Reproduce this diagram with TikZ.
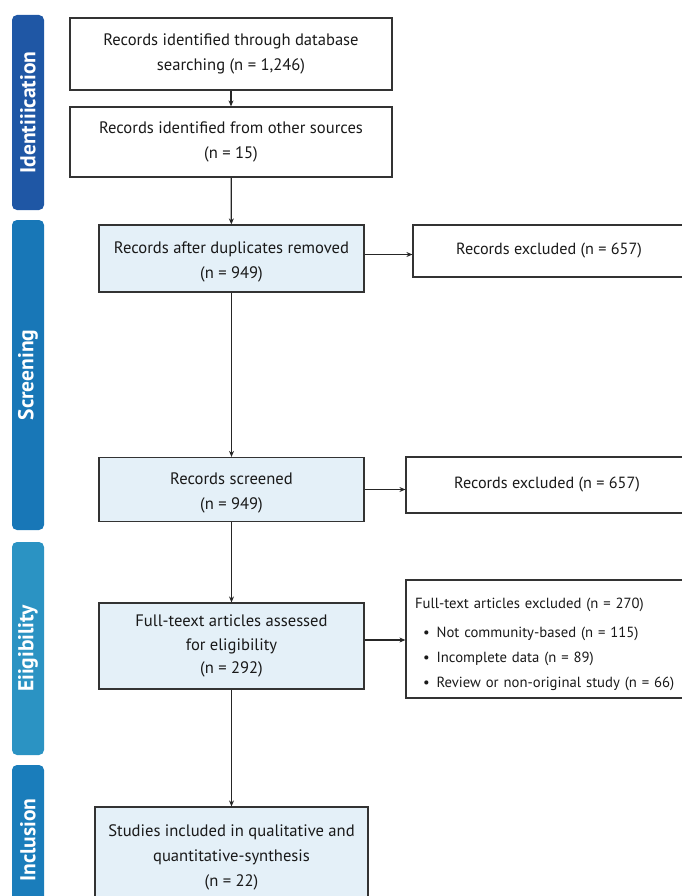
\documentclass[tikz,border=0pt]{standalone}
\usepackage{fontspec}
\setmainfont{PT Sans}
\usetikzlibrary{arrows.meta,positioning}
\definecolor{idblue}{HTML}{1F57A5}
\definecolor{scblue}{HTML}{1877B7}
\definecolor{elblue}{HTML}{2B93C3}
\definecolor{inblue}{HTML}{1A7DBB}
\definecolor{boxblue}{HTML}{E4F0F8}
\tikzset{
  stage/.style={rounded corners=5pt, rotate=90, text=white, minimum height=32pt,
    inner sep=0pt, font=\fontsize{21.5}{24}\selectfont\bfseries},
  record/.style={draw=black!80, line width=1.2pt, align=center, inner sep=0pt,
    font=\fontsize{16.6}{25}\selectfont, text=black!90},
  recordblue/.style={record, fill=boxblue},
  flow/.style={-{Stealth[length=6pt,width=5pt]}, line width=1.2pt, draw=black!85},
}
\begin{document}
\begin{tikzpicture}[x=1pt,y=-1pt]
  \useasboundingbox (0,0) rectangle (681,896);
  % stage bars on the left
  \node[stage, fill=idblue, minimum width=195pt] (ident) at (28,112.5) {Identiiication};
  \node[stage, fill=scblue, minimum width=310pt] (screen) at (28,375) {Screening};
  \node[stage, fill=elblue, minimum width=213pt] (elig) at (28,648.5) {Eiigibility};
  \node[stage, fill=inblue, minimum width=150pt] (incl) at (28,840) {Inclusion};
  % main column
  \node[record, minimum width=322pt, minimum height=72pt] (dbsearch) at (231,54)
    {Records identified through database\\searching (n = 1,246)};
  \node[record, minimum width=322pt, minimum height=70pt] (other) at (231,142)
    {Records identified from other sources\\(n = 15)};
  \node[recordblue, minimum width=265pt, minimum height=67pt] (dedup) at (231.5,258.5)
    {\rule{0pt}{18pt}Records after duplicates removed\\(n = 949)};
  \node[recordblue, minimum width=265pt, minimum height=64pt] (screened) at (231.5,489.5)
    {\rule{0pt}{18pt}Records screened\\(n = 949)};
  \node[recordblue, minimum width=265pt, minimum height=86pt,
    font=\fontsize{16.6}{23.5}\selectfont] (fulltext) at (231.5,646)
    {Full-teext articles assessed\\for eligibility\\(n = 292)};
  \node[recordblue, minimum width=273pt, minimum height=100pt] (included) at (231.5,857)
    {Studies included in qualitative and\\quantitative-synthesis\\(n = 22)};
  % exclusion boxes on the right
  \node[record, minimum width=272pt, minimum height=52pt,
    font=\fontsize{16.2}{25}\selectfont] (excl1) at (549,251)
    {Records excluded (n = 657)};
  \node[record, minimum width=282pt, minimum height=56pt,
    font=\fontsize{16.2}{25}\selectfont] (excl2) at (547,485)
    {Records excluded (n = 657)};
  \node[record, minimum width=292pt, minimum height=118pt, align=left,
    text width=274pt, inner xsep=9pt, font=\fontsize{14.7}{25}\selectfont] (excl3) at (552,639)
    {\rule{0pt}{21pt}Full-text articles excluded (n = 270)\\[4pt]
     \hspace*{8pt}\textbullet\hspace{7pt}Not community-based (n = 115)\\
     \hspace*{8pt}\textbullet\hspace{7pt}Incomplete data (n = 89)\\
     \hspace*{8pt}\textbullet\hspace{7pt}Review or non-original study (n = 66)};
  % connectors
  \draw[flow] (dbsearch) -- (other);
  \draw[flow] (other) -- (dedup);
  \draw[flow] (dedup) -- (screened);
  \draw[flow] (screened) -- (fulltext);
  \draw[flow] (fulltext) -- (included);
  \draw[flow] ([yshift=4pt]dedup.east) -- ([yshift=4pt]dedup.east -| excl1.west);
  \draw[flow] (screened.east) -- (screened.east -| excl2.west);
  \draw[flow] ([yshift=6pt]fulltext.east) -- ([yshift=6pt]fulltext.east -| excl3.west);
\end{tikzpicture}
\end{document}
